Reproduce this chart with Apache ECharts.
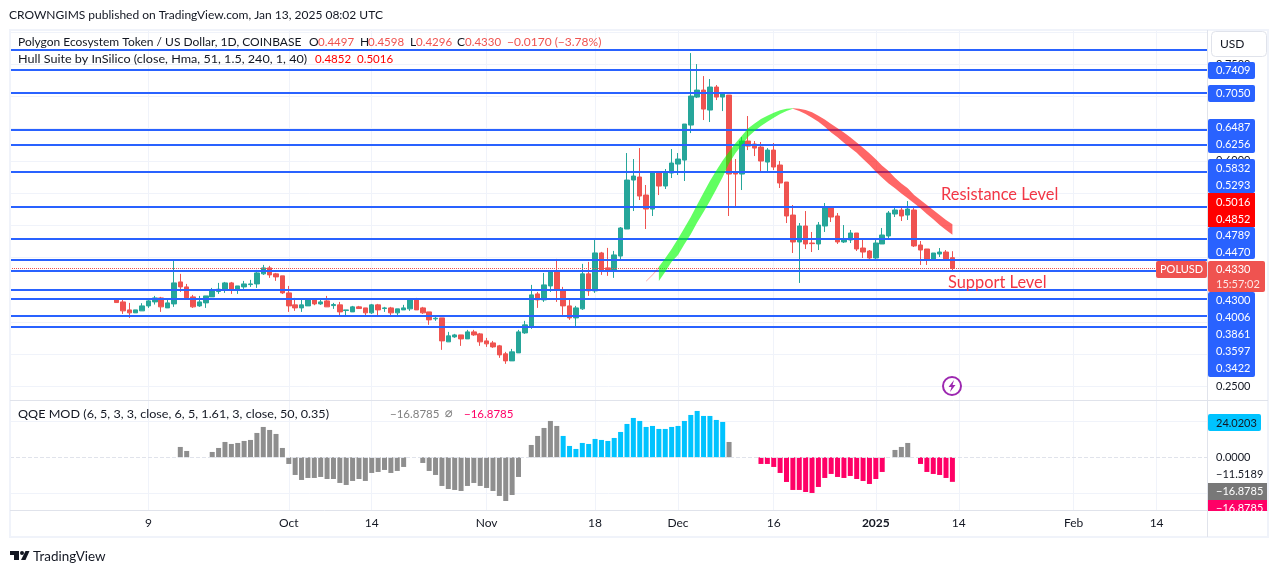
<!DOCTYPE html>
<html>
<head>
<meta charset="utf-8">
<title>POLUSD</title>
<script src="https://cdn.jsdelivr.net/npm/echarts@6/dist/echarts.min.js"></script>
<style>
  html, body { margin: 0; padding: 0; background: #fff; }
  #chart { width: 1281px; height: 573px; }
</style>
</head>
<body>
<div id="chart"></div>
<script>
// daily candles, index 0 = Sep 4 2024, last = Jan 13 2025
const opens = [0.3858,0.3811,0.3687,0.3641,0.3672,0.3749,0.3811,0.3873,0.3718,0.3780,0.4121,0.4044,0.3889,0.3749,0.3796,0.3889,0.3972,0.3997,0.4106,0.3997,0.4044,0.4080,0.4090,0.4246,0.4339,0.4246,0.4215,0.3951,0.3765,0.3718,0.3749,0.3842,0.3780,0.3827,0.3754,0.3765,0.3677,0.3656,0.3734,0.3718,0.3641,0.3765,0.3708,0.3718,0.3641,0.3687,0.3703,0.3858,0.3718,0.3656,0.3548,0.3563,0.3191,0.3268,0.3299,0.3237,0.3346,0.3315,0.3206,0.3175,0.3129,0.3005,0.2896,0.3020,0.3330,0.3424,0.3935,0.3842,0.4059,0.4292,0.3997,0.3749,0.3563,0.3703,0.4246,0.3982,0.4571,0.4339,0.4308,0.4523,0.4942,0.5702,0.5749,0.5469,0.5252,0.5811,0.5609,0.5811,0.5950,0.6012,0.6555,0.6989,0.7098,0.6788,0.7145,0.6989,0.7020,0.5811,0.5795,0.6307,0.6261,0.6214,0.5981,0.6167,0.5935,0.5671,0.5159,0.4741,0.4989,0.4725,0.4710,0.4989,0.5283,0.5144,0.4741,0.4772,0.4880,0.4647,0.4601,0.4492,0.4710,0.4834,0.5175,0.5237,0.5159,0.5237,0.4694,0.4632,0.4461,0.4554,0.4585,0.4497];
const highs = [0.3858,0.3847,0.3796,0.3687,0.3791,0.3853,0.3904,0.3889,0.3868,0.4463,0.4246,0.4090,0.3920,0.3904,0.3904,0.4028,0.4106,0.4121,0.4121,0.4059,0.4137,0.4153,0.4308,0.4385,0.4370,0.4261,0.4215,0.4059,0.3873,0.3842,0.3858,0.3858,0.3853,0.3904,0.3796,0.3811,0.3687,0.3749,0.3749,0.3718,0.3780,0.3780,0.3734,0.3734,0.3703,0.3765,0.3858,0.3873,0.3734,0.3656,0.3594,0.3563,0.3346,0.3315,0.3299,0.3377,0.3377,0.3330,0.3253,0.3206,0.3144,0.3036,0.3082,0.3377,0.3517,0.4075,0.3966,0.4261,0.4292,0.4478,0.4044,0.3842,0.3749,0.4401,0.4432,0.4773,0.4587,0.4649,0.4602,0.4973,0.6121,0.6028,0.6198,0.5625,0.5842,0.5842,0.5873,0.6183,0.6121,0.6571,0.7672,0.7501,0.7315,0.7269,0.7176,0.7067,0.7020,0.6028,0.6369,0.6695,0.6307,0.6292,0.6198,0.6276,0.5997,0.5671,0.5314,0.5035,0.5221,0.4896,0.5051,0.5345,0.5283,0.5190,0.5004,0.4927,0.4880,0.4772,0.4616,0.4772,0.4958,0.5221,0.5299,0.5268,0.5376,0.5299,0.4756,0.4632,0.4570,0.4647,0.4616,0.4598];
const lows = [0.3801,0.3625,0.3563,0.3641,0.3672,0.3718,0.3770,0.3656,0.3718,0.3734,0.3966,0.3873,0.3718,0.3734,0.3718,0.3889,0.3935,0.3951,0.3935,0.3935,0.4013,0.4044,0.4028,0.4230,0.4184,0.4137,0.3935,0.3656,0.3672,0.3656,0.3749,0.3760,0.3765,0.3734,0.3703,0.3594,0.3594,0.3656,0.3703,0.3594,0.3625,0.3594,0.3656,0.3594,0.3594,0.3687,0.3672,0.3687,0.3625,0.3455,0.3517,0.3067,0.3191,0.3253,0.3129,0.3237,0.3284,0.3129,0.3113,0.3098,0.2943,0.2850,0.2896,0.3020,0.3315,0.3393,0.3718,0.3811,0.3966,0.3811,0.3610,0.3532,0.3424,0.3687,0.3904,0.3951,0.4230,0.4215,0.4184,0.4461,0.4942,0.5221,0.5392,0.4942,0.5144,0.5469,0.5563,0.5733,0.5780,0.5687,0.6431,0.6974,0.6633,0.6602,0.6943,0.6772,0.5144,0.5283,0.5547,0.6167,0.6074,0.5842,0.5826,0.5857,0.5578,0.5035,0.4570,0.4105,0.4632,0.4585,0.4616,0.4896,0.5051,0.4710,0.4725,0.4725,0.4601,0.4492,0.4477,0.4446,0.4710,0.4803,0.5128,0.5066,0.5082,0.4663,0.4384,0.4384,0.4446,0.4508,0.4446,0.4296];
const closes = [0.3801,0.3672,0.3641,0.3687,0.3749,0.3827,0.3873,0.3734,0.3796,0.4106,0.4044,0.3873,0.3734,0.3811,0.3904,0.3982,0.4008,0.4106,0.3997,0.4059,0.4090,0.4090,0.4261,0.4339,0.4230,0.4199,0.3951,0.3749,0.3718,0.3765,0.3842,0.3780,0.3811,0.3734,0.3770,0.3656,0.3687,0.3734,0.3708,0.3641,0.3765,0.3687,0.3718,0.3641,0.3703,0.3718,0.3858,0.3687,0.3641,0.3532,0.3558,0.3206,0.3284,0.3299,0.3237,0.3346,0.3299,0.3191,0.3160,0.3113,0.2989,0.2896,0.3036,0.3346,0.3455,0.3920,0.3842,0.4075,0.4292,0.3997,0.3749,0.3563,0.3718,0.4246,0.3982,0.4571,0.4308,0.4308,0.4540,0.4958,0.5702,0.5764,0.5454,0.5252,0.5826,0.5609,0.5826,0.5966,0.6028,0.6571,0.7005,0.7098,0.6803,0.7145,0.6989,0.7052,0.5795,0.5795,0.6307,0.6229,0.6198,0.5997,0.6167,0.5904,0.5656,0.5144,0.4741,0.4989,0.4710,0.4715,0.5004,0.5283,0.5128,0.4741,0.4787,0.4880,0.4632,0.4585,0.4492,0.4725,0.4849,0.5190,0.5237,0.5144,0.5252,0.4679,0.4616,0.4461,0.4570,0.4585,0.4477,0.4330];

// Hull Suite band, edges per day index
const hullFadeDays = [83, 84, 85];
const hullFadeUpper = [0.4139, 0.4240, 0.4358];
const hullFadeLower = [0.4123, 0.4219, 0.4332];
const hullUpDays = [85,86,87,88,89,90,91,92,93,94,95,96,97,98,99,100,101,102,103,104,105,106];
const hullUpUpper = [0.4358,0.4487,0.4632,0.4792,0.4957,0.5128,0.5319,0.5505,0.5686,0.5851,0.6006,0.6142,0.6271,0.6390,0.6504,0.6581,0.6648,0.6700,0.6746,0.6783,0.6809,0.6814];
const hullUpLower = [0.4136,0.4280,0.4436,0.4540,0.4706,0.4861,0.5042,0.5207,0.5378,0.5559,0.5750,0.5961,0.6116,0.6245,0.6374,0.6462,0.6540,0.6607,0.6669,0.6726,0.6772,0.6809];
const hullDownDays = [106,107,108,109,110,111,112,113,114,115,116,117,118,119,120,121,122,123,124,125,126,127,128,129,130,131];
const hullDownUpper = [0.6814,0.6809,0.6788,0.6752,0.6700,0.6643,0.6571,0.6504,0.6441,0.6364,0.6286,0.6204,0.6116,0.6023,0.5925,0.5842,0.5738,0.5650,0.5573,0.5470,0.5392,0.5314,0.5237,0.5159,0.5082,0.5016];
const hullDownLower = [0.6809,0.6772,0.6726,0.6669,0.6607,0.6529,0.6441,0.6364,0.6281,0.6204,0.6126,0.6028,0.5935,0.5831,0.5738,0.5650,0.5573,0.5495,0.5418,0.5340,0.5263,0.5175,0.5092,0.5004,0.4927,0.4852];

// horizontal levels drawn on the price pane
const priceLevels = [0.7718,0.7409,0.7050,0.6487,0.6256,0.5832,0.5293,0.4789,0.4470,0.4300,0.4006,0.3861,0.3597,0.3422];
const lastPrice = 0.4330;

// QQE MOD histogram as [day index, value]
const qqeGray = [[10,7.1],[11,4.35],[15,3.66],[16,6.41],[17,10.53],[18,9.16],[19,9.85],[20,11.22],[21,11.91],[22,16.72],[23,20.84],[24,18.78],[25,16.03],[26,6.41],[27,-4.58],[28,-12.14],[29,-15.57],[30,-14.2],[31,-14.2],[32,-13.51],[33,-14.89],[34,-14.89],[35,-17.63],[36,-19.01],[37,-16.26],[38,-14.89],[39,-16.26],[40,-10.76],[41,-10.08],[42,-8.7],[43,-10.76],[44,-9.39],[45,-6.64],[48,-3.89],[49,-9.39],[50,-12.14],[51,-19.69],[52,-21.76],[53,-22.44],[54,-23.13],[55,-19.69],[56,-17.63],[57,-19.69],[58,-21.07],[59,-23.13],[60,-26.56],[61,-30],[62,-25.88],[63,-13.51],[65,8.47],[66,14.66],[67,20.15],[68,24.96],[69,21.53],[96,10.53],[122,5.04],[123,7.1],[124,9.85]];
const qqeBlue = [[70,14.66],[71,7.79],[72,5.73],[73,9.85],[74,9.16],[75,12.6],[76,11.91],[77,11.22],[78,13.28],[79,17.4],[80,22.9],[81,27.02],[82,24.96],[83,20.84],[84,21.53],[85,19.47],[86,19.47],[87,20.84],[88,21.53],[89,24.96],[90,29.08],[91,31.83],[92,28.4],[93,28.4],[94,25.65],[95,24.27]];
const qqeRed = [[101,-4.58],[102,-4.58],[103,-6.64],[104,-10.76],[105,-16.95],[106,-22.44],[107,-22.44],[108,-23.82],[109,-24.5],[110,-20.38],[111,-14.2],[112,-11.45],[113,-13.51],[114,-14.2],[115,-12.82],[116,-14.89],[117,-16.26],[118,-18.32],[119,-14.89],[120,-10.08],[126,-4.58],[127,-10.08],[128,-11.45],[129,-12.14],[130,-14.2],[131,-16.88]];

// time axis ticks (day index) and their labels
const timeTicks = [5, 27, 40, 58, 75, 88, 103, 119, 132, 150, 163];
const timeLabels = ['9', 'Oct', '14', 'Nov', '18', 'Dec', '16', '2025', '14', 'Feb', '14'];
const priceGrid = [0.25,0.30,0.35,0.40,0.45,0.50,0.55,0.60,0.65,0.70,0.75,0.80];
const priceTickLabels = [0.25, 0.60, 0.75];
const qqeGrid = [-25, 25];
const qqeTickLabels = [0, -11.5189];

const FONT = 'Lato, "Noto Sans", sans-serif';
const FS = 12;
const NUM = 11;
const INK = '#131722';
const GRID = '#f0f3fa';
const EDGE = '#e0e3eb';
const BLUE = '#2962ff';
const UP = '#26a69a';
const DOWN = '#ef5350';
const DAY_MIN = -16.69;
const DAY_MAX = 170.9;

const chart = echarts.init(document.getElementById('chart'), null, { renderer: 'canvas' });

function txt(x, y, text, fill, size, scaleX) {
  return {
    type: 'text', silent: true, z: 20, x, y, scaleX: scaleX || 1,
    style: { x: 0, y: 0, text, fill: fill || INK, font: (size || FS) + 'px ' + FONT, verticalAlign: 'middle' }
  };
}
function num(x, y, text, fill) {
  return txt(x, y, text, fill, NUM);
}
function box(x, y, w, h, fill, r, z) {
  return { type: 'rect', silent: true, z: z || 15, shape: { x, y, width: w, height: h, r: r || 0 }, style: { fill } };
}
function rule(x1, y1, x2, y2, color, width) {
  return { type: 'line', silent: true, z: 12, shape: { x1, y1, x2, y2 }, style: { stroke: color, lineWidth: width || 1 } };
}

const graphics = [
  // frame and separators
  { type: 'rect', silent: true, z: 11, shape: { x: 10, y: 30, width: 1258, height: 507 }, style: { fill: 'transparent', stroke: GRID, lineWidth: 2 } },
  rule(10, 400.5, 1268, 400.5, EDGE),
  rule(10, 510.5, 1268, 510.5, EDGE),
  rule(1207.5, 30, 1207.5, 537, EDGE),

  // header and legends
  txt(9, 15, 'CROWNGIMS published on TradingView.com, Jan 13, 2025 08:02 UTC'),
  txt(18, 42, 'Polygon Ecosystem Token / US Dollar, 1D, COINBASE'),
  txt(309, 42, 'O'), txt(318, 42, '0.4497', DOWN, NUM + 0.5),
  txt(360, 42, 'H'), txt(368, 42, '0.4598', DOWN, NUM + 0.5),
  txt(410, 42, 'L'), txt(416, 42, '0.4296', DOWN, NUM + 0.5),
  txt(457, 42, 'C'), txt(465, 42, '0.4330', DOWN, NUM + 0.5),
  txt(507, 42, '\u22120.0170 (\u22123.78%)', DOWN),
  txt(18, 59, 'Hull Suite by InSilico (close, Hma, 51, 1.5, 240, 1, 40)', INK, FS, 1.05),
  txt(315, 59, '0.4852', '#ff0000', NUM + 0.5), txt(357, 59, '0.5016', '#ff0000', NUM + 0.5),
  txt(18, 414, 'QQE MOD (6, 5, 3, 3, close, 6, 5, 1.61, 3, close, 50, 0.35)', INK, FS, 1.05),
  txt(390, 414, '\u221216.8785', '#808080', NUM + 0.5),
  {
    type: 'text', silent: true, z: 20, x: 445, y: 414,
    style: { x: 0, y: 0, text: '\u2300', fill: '#808080', font: '13px "DejaVu Sans", sans-serif', verticalAlign: 'middle' }
  },
  txt(464, 414, '\u221216.8785', '#ff0066', NUM + 0.5),

  // annotations
  txt(941, 195, 'Resistance Level', '#f23645', 16.4),
  txt(948, 283, 'Support Level', '#f23645', 16.4),
  { type: 'circle', silent: true, z: 20, shape: { cx: 952, cy: 386, r: 9 }, style: { fill: '#fff', stroke: '#9c27b0', lineWidth: 2 } },
  { type: 'polygon', silent: true, z: 21, shape: { points: [[954, 380], [948.5, 387], [951.5, 387], [950, 392], [955.5, 385], [952.5, 385]] }, style: { fill: '#9c27b0' } },

  // USD button
  { type: 'rect', silent: true, z: 15, shape: { x: 1211.5, y: 31.5, width: 55, height: 25, r: 4 }, style: { fill: '#fff', stroke: EDGE } },
  txt(1220, 44, 'USD'),

  // price badges
  box(1208, 62, 47, 17, BLUE, 2),
  box(1208, 85, 47, 17, BLUE, 2),
  box(1208, 119, 47, 34, BLUE, 2),
  box(1208, 159, 47, 34, BLUE, 2),
  box(1208, 193, 47, 34, '#ff0000'),
  box(1208, 227, 47, 32, BLUE, 2),
  box(1208, 292, 47, 85, BLUE, 2),
  box(1208, 261, 57, 31, DOWN, 2),
  box(1156, 261, 51, 17, DOWN, 2),
  num(1216, 70.5, '0.7409', '#fff'),
  num(1216, 93.5, '0.7050', '#fff'),
  num(1216, 127.5, '0.6487', '#fff'),
  num(1216, 144.5, '0.6256', '#fff'),
  num(1216, 168, '0.5832', '#fff'),
  num(1216, 185, '0.5293', '#fff'),
  num(1216, 202, '0.5016', '#fff'),
  num(1216, 219, '0.4852', '#fff'),
  num(1216, 235, '0.4789', '#fff'),
  num(1216, 252, '0.4470', '#fff'),
  num(1216, 269.5, '0.4330', '#fff'),
  num(1216, 284, '15:57:02', 'rgba(255,255,255,0.85)'),
  num(1160, 269.5, 'POLUSD', '#fff'),
  num(1216, 300, '0.4300', '#fff'),
  num(1216, 317, '0.4006', '#fff'),
  num(1216, 334, '0.3861', '#fff'),
  num(1216, 351, '0.3597', '#fff'),
  num(1216, 368, '0.3422', '#fff'),

  // qqe badges
  box(1208, 414, 53, 17, '#00c3ff', 2),
  num(1216, 423, '24.0203', INK),
  box(1208, 483, 59, 17, '#787878'),
  num(1216, 491.5, '\u221216.8785', '#fff'),
  box(1208, 500, 59, 17, '#ff0066'),
  num(1216, 508, '\u221216.8785', '#fff'),
  box(1208, 511, 59, 24, '#fff', 0, 22),

  // footer logo
  { type: 'polygon', silent: true, z: 20, shape: { points: [[10, 551], [19, 551], [19, 560], [14, 560], [14, 555], [10, 555]] }, style: { fill: INK } },
  { type: 'circle', silent: true, z: 20, shape: { cx: 22, cy: 553, r: 2 }, style: { fill: INK } },
  { type: 'polygon', silent: true, z: 20, shape: { points: [[25.5, 551], [29.5, 551], [25.5, 560], [21, 560]] }, style: { fill: INK } },
  txt(33, 556, 'TradingView', INK, 14, 0.96)
];

const hullBands = [
  { days: hullFadeDays, upper: hullFadeUpper, lower: hullFadeLower, color: 'rgba(255,0,0,0.3)' },
  { days: hullUpDays, upper: hullUpUpper, lower: hullUpLower, color: 'rgba(0,255,0,0.62)' },
  { days: hullDownDays, upper: hullDownUpper, lower: hullDownLower, color: 'rgba(255,0,0,0.6)' }
];

function qqeSeries(name, data, color) {
  return {
    name, type: 'bar', xAxisIndex: 1, yAxisIndex: 1, data,
    barWidth: 5, barGap: '-100%', itemStyle: { color }, z: 3
  };
}

const dayAxis = {
  type: 'value', min: DAY_MIN, max: DAY_MAX,
  axisLine: { show: false },
  axisTick: { show: false, customValues: timeTicks },
  splitLine: { show: true, lineStyle: { color: GRID, width: 1 } }
};

chart.setOption({
  animation: false,
  backgroundColor: '#fff',
  textStyle: { fontFamily: FONT },
  grid: [
    { left: 10, right: 74, top: 30, height: 370 },
    { left: 10, right: 74, top: 400, height: 110 }
  ],
  xAxis: [
    Object.assign({}, dayAxis, { gridIndex: 0, axisLabel: { show: false } }),
    Object.assign({}, dayAxis, {
      gridIndex: 1,
      axisLabel: {
        show: true, customValues: timeTicks, margin: 7, color: INK, fontSize: FS, fontFamily: FONT,
        hideOverlap: false, showMinLabel: true, showMaxLabel: true,
        formatter: v => {
          const t = timeLabels[timeTicks.indexOf(v)];
          return t === '2025' ? '{b|' + t + '}' : t;
        },
        rich: { b: { fontWeight: 'bold', fontSize: FS, fontFamily: FONT, color: INK } }
      }
    })
  ],
  yAxis: [
    {
      type: 'value', gridIndex: 0, position: 'right', min: 0.2289, max: 0.8030, scale: true,
      axisLine: { show: false },
      axisTick: { show: false, customValues: priceGrid },
      splitLine: { show: true, lineStyle: { color: GRID, width: 1 } },
      axisLabel: {
        customValues: priceTickLabels, margin: 9, color: INK, fontSize: NUM, fontFamily: FONT,
        formatter: v => v.toFixed(4)
      }
    },
    {
      type: 'value', gridIndex: 1, position: 'right', min: -36.2, max: 39.35,
      axisLine: { show: false },
      axisTick: { show: false, customValues: qqeGrid },
      splitLine: { show: true, lineStyle: { color: GRID, width: 1 } },
      axisLabel: {
        customValues: qqeTickLabels, margin: 9, color: INK, fontSize: NUM, fontFamily: FONT,
        formatter: v => v.toFixed(4).replace('-', '\u2212')
      }
    }
  ],
  series: [
    {
      // blue levels sit behind the candles
      name: 'levels', type: 'line', data: [], z: 1, silent: true,
      markLine: {
        silent: true, symbol: 'none', animation: false, label: { show: false }, precision: 4,
        lineStyle: { color: BLUE, width: 2, type: 'solid' },
        data: priceLevels.map(v => ({ yAxis: v }))
      }
    },
    {
      name: 'POLUSD', type: 'candlestick', z: 2, barWidth: 5,
      data: opens.map((o, i) => [i, o, closes[i], lows[i], highs[i]]),
      itemStyle: { color: UP, color0: DOWN, borderColor: UP, borderColor0: DOWN, borderWidth: 1 },
      markLine: {
        silent: true, symbol: 'none', animation: false, label: { show: false }, z: 4, precision: 4,
        lineStyle: { color: DOWN, width: 1, type: 'dotted' },
        data: [{ yAxis: lastPrice }]
      }
    },
    {
      name: 'Hull Suite', type: 'custom', z: 5, silent: true,
      data: hullBands.map((b, i) => [b.days[0], b.upper[0], i]),
      encode: { x: 0, y: 1 },
      renderItem: (params, api) => {
        const b = hullBands[api.value(2)];
        const top = b.days.map((d, i) => api.coord([d, b.upper[i]]));
        const bottom = b.days.map((d, i) => api.coord([d, b.lower[i]])).reverse();
        return { type: 'polygon', shape: { points: top.concat(bottom) }, style: { fill: b.color } };
      }
    },
    qqeSeries('QQE gray', qqeGray, '#8e8e8e'),
    qqeSeries('QQE blue', qqeBlue, '#00c3ff'),
    qqeSeries('QQE red', qqeRed, '#ff0066'),
    {
      name: 'qqe zero', type: 'line', xAxisIndex: 1, yAxisIndex: 1, data: [], z: 4, silent: true,
      markLine: {
        silent: true, symbol: 'none', animation: false, label: { show: false },
        lineStyle: { color: EDGE, width: 1, type: 'dashed' },
        data: [{ yAxis: 0 }]
      }
    }
  ],
  graphic: { elements: graphics }
});
</script>
</body>
</html>
